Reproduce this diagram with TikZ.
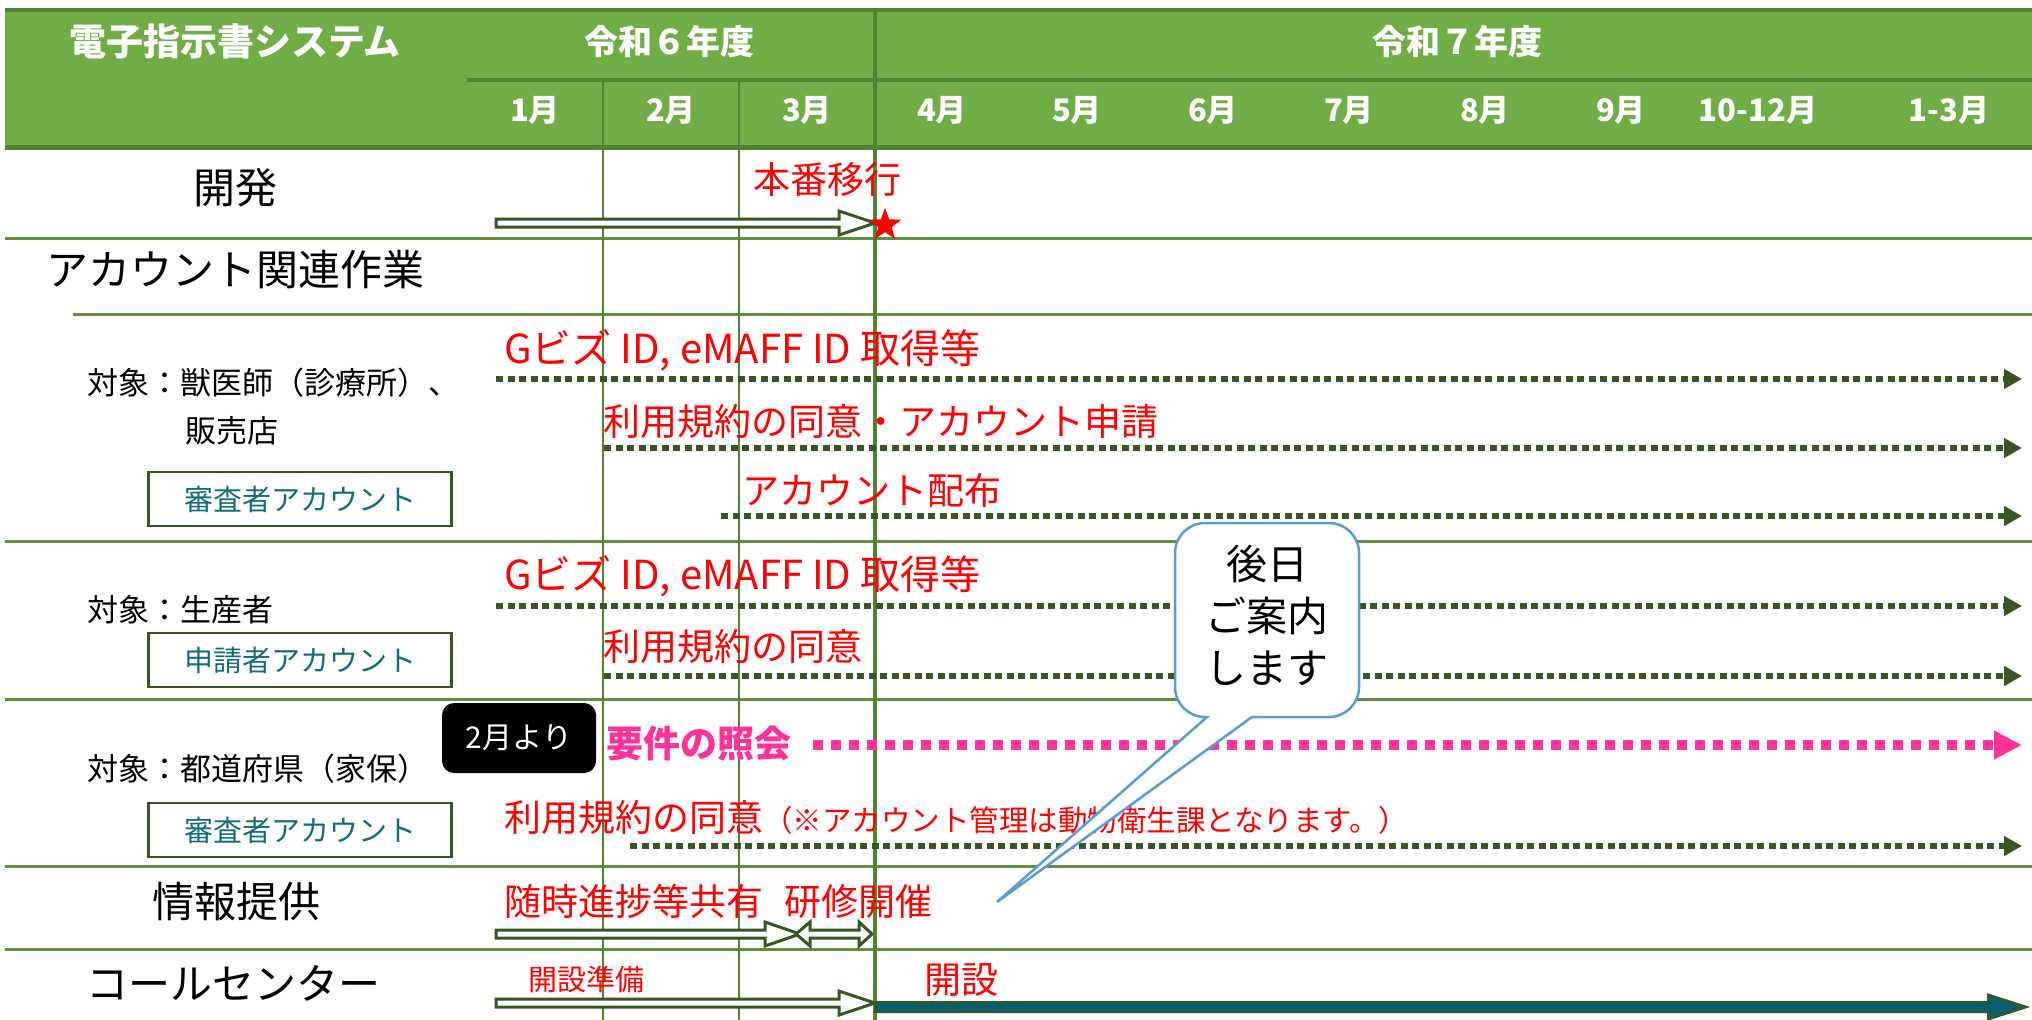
\documentclass[tikz,border=0pt]{standalone}
\usepackage{fontspec}
\setmainfont{Noto Sans CJK JP}
\usetikzlibrary{arrows.meta,shapes.geometric}
\definecolor{hdrgreen}{HTML}{70AD47}
\definecolor{hdrdark}{HTML}{548235}
\definecolor{gridgreen}{HTML}{5E8E3E}
\definecolor{dkgreen}{HTML}{375623}
\definecolor{tealtxt}{HTML}{156C78}
\definecolor{tealfill}{HTML}{0B5F6B}
\definecolor{pinkc}{HTML}{FF3399}
\definecolor{callblue}{HTML}{5B9BD5}
\newcommand\fsz[2]{\fontsize{#1}{#2}\selectfont}
\begin{document}
\begin{tikzpicture}[x=1pt,y=-1pt,
  hdr/.style={text=white,inner sep=0pt,font=\bfseries\fsz{#1}{#1}},
  lbl/.style={inner sep=0pt,font=\fsz{#1}{#1}},
  redt/.style={text=red,inner sep=0pt,font=\fsz{#1}{#1}},
  acct/.style={draw=dkgreen,line width=2.5pt,minimum width=303pt,minimum height=54pt,inner sep=0pt,text=tealtxt,font=\fsz{29}{29}},
  dotarrow/.style={draw=dkgreen,line width=6pt,dash pattern=on 7pt off 4.5pt,-{Triangle[length=18pt,width=19pt]}},
  hollow/.style={draw=dkgreen,line width=3pt,fill=white,line join=miter},
  gline/.style={draw=gridgreen,line width=3pt}
]
\useasboundingbox (0,0) rectangle (2032,1020);
\fill[white] (0,0) rectangle (2032,1020);
% header
\fill[hdrgreen] (5,10) rectangle (2032,147);
\draw[hdrdark,line width=4pt] (5,10) -- (2032,10);
\draw[hdrdark,line width=4pt] (467,80) -- (2032,80);
\draw[hdrdark,line width=5pt] (5,147) -- (2032,147);
% body lines
\draw[gline] (5,238) -- (2032,238);
\draw[gline] (73,314) -- (2032,314);
\draw[gline] (5,541) -- (2032,541);
\draw[gline] (5,699) -- (2032,699);
\draw[gline] (5,866) -- (2032,866);
\draw[gline] (5,949) -- (2032,949);
% vertical lines
\draw[hdrdark,line width=1.2pt] (603,80) -- (603,1020);
\draw[hdrdark,line width=1.2pt] (739,80) -- (739,1020);
\draw[hdrdark,line width=3.5pt] (875,10) -- (875,1020);
% header texts
\node[hdr=37] (title) at (235,41) {電子指示書システム};
\node[hdr=34] (fy6) at (669,42) {令和６年度};
\node[hdr=34] (fy7) at (1457,42) {令和７年度};
\node[hdr=31] (m1) at (535,110) {1月};
\node[hdr=31] (m2) at (671,110) {2月};
\node[hdr=31] (m3) at (807,110) {3月};
\node[hdr=31] (m4) at (942,110) {4月};
\node[hdr=31] (m5) at (1077,110) {5月};
\node[hdr=31] (m6) at (1213,110) {6月};
\node[hdr=31] (m7) at (1349,110) {7月};
\node[hdr=31] (m8) at (1485,110) {8月};
\node[hdr=31] (m9) at (1621,110) {9月};
\node[hdr=31] (m10) at (1758,110) {10-12月};
\node[hdr=31] (m13) at (1949,110) {1-3月};
% row labels
\node[lbl=42] (dev) at (235,188) {開発};
\node[lbl=42] (acc) at (235,270) {アカウント関連作業};
\node[lbl=31,anchor=west] (t1) at (87,383) {対象：獣医師（診療所）、};
\node[lbl=31,anchor=west] (t1b) at (185,431) {販売店};
\node[acct] (b1) at (300,499) {審査者アカウント};
\node[lbl=31,anchor=west] (t2) at (87,610) {対象：生産者};
\node[acct] (b2) at (300,660) {申請者アカウント};
\node[lbl=31,anchor=west] (t3) at (87,769) {対象：都道府県（家保）};
\node[acct] (b3) at (300,830) {審査者アカウント};
\node[lbl=42] (info) at (236,902) {情報提供};
\node[lbl=42] (call) at (233,983) {コールセンター};
% development row
\node[redt=37] (honban) at (827,179) {本番移行};
\draw[hollow] (496,219) -- (839,219) -- (839,211) -- (875,223) -- (839,235) -- (839,227) -- (496,227) -- cycle;
\node[star,star points=5,star point ratio=2.4,fill=red,minimum size=34pt,inner sep=0pt] (star) at (885,225) {};
% section 1
\node[redt=40,anchor=west] (g1) at (504,350) {Gビズ ID, eMAFF ID 取得等};
\draw[dotarrow] (496,379) -- (2022,379);
\node[redt=37,anchor=west] (r1) at (603,422) {利用規約の同意・アカウント申請};
\draw[dotarrow] (604,448) -- (2022,448);
\node[redt=37,anchor=west] (h1) at (742,490) {アカウント配布};
\draw[dotarrow] (721,516) -- (2022,516);
% section 2
\node[redt=40,anchor=west] (g2) at (504,576) {Gビズ ID, eMAFF ID 取得等};
\draw[dotarrow] (496,606) -- (2022,606);
\node[redt=37,anchor=west] (r2) at (603,647) {利用規約の同意};
\draw[dotarrow] (604,676) -- (2022,676);
% section 3
\node[fill=black,rounded corners=12pt,minimum width=154pt,minimum height=70pt,inner sep=0pt,text=white,font=\fsz{30}{30}] (feb) at (519,738) {2月より};
\node[lbl=37,text=pinkc,anchor=west,font=\bfseries\fsz{37}{37}] (yoken) at (606,744) {要件の照会};
\draw[draw=pinkc,line width=10pt,dash pattern=on 10pt off 8pt,-{Triangle[length=28pt,width=27pt]}] (813,745) -- (2022,745);
\node[redt=37,anchor=west] (r3) at (504,818) {利用規約の同意{\fsz{29.5}{29.5}（※アカウント管理は動物衛生課となります。）}};
\draw[dotarrow] (630,846) -- (2022,846);
% info row
\node[redt=37,anchor=west] (zuiji) at (504,901) {随時進捗等共有};
\node[redt=37,anchor=west] (kenshu) at (784,901) {研修開催};
\draw[hollow] (496,930) -- (765,930) -- (765,922) -- (800,934) -- (765,946) -- (765,938) -- (496,938) -- cycle;
\draw[hollow] (796,934) -- (810,922) -- (810,930) -- (859,930) -- (859,922) -- (872,934) -- (859,946) -- (859,938) -- (810,938) -- (810,946) -- cycle;
% call center row
\node[redt=29] (junbi) at (586,979) {開設準備};
\draw[hollow] (496,999) -- (839,999) -- (839,991) -- (875,1003) -- (839,1015) -- (839,1007) -- (496,1007) -- cycle;
\node[redt=37] (kaisetsu) at (961,980) {開設};
\draw[draw=dkgreen,line width=2pt,fill=tealfill,line join=miter] (875,1002) -- (1988,1002) -- (1988,994.5) -- (2027,1007) -- (1988,1019.5) -- (1988,1012) -- (875,1012) -- cycle;
% callout
\draw[draw=callblue,line width=2.5pt,fill=white] (1252,717) -- (1329,717) arc[start angle=90,end angle=0,radius=30] -- (1359,553) arc[start angle=0,end angle=-90,radius=30] -- (1205,523) arc[start angle=-90,end angle=-180,radius=30] -- (1175,687) arc[start angle=-180,end angle=-270,radius=30] -- (1207,717) -- (997,902) -- cycle;
\node[inner sep=0pt,align=center,font=\fsz{41}{52}] (later) at (1267,615) {後日\\ご案内\\します};
\end{tikzpicture}
\end{document}
